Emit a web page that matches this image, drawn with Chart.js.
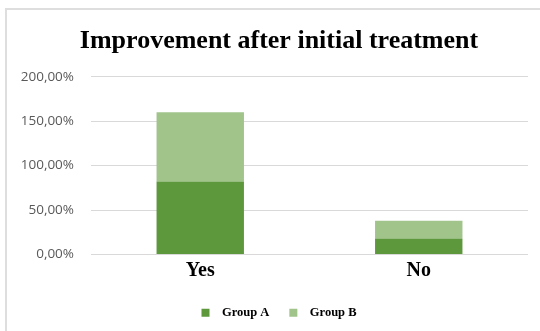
<!DOCTYPE html>
<html>
<head>
<meta charset="utf-8">
<script src="https://cdn.jsdelivr.net/npm/chart.js"></script>
<style>
  html, body { margin: 0; padding: 0; background: #fff; }
  #wrap { position: relative; width: 540px; height: 331px; overflow: hidden; }
  #frame {
    position: absolute; left: 5px; top: 8px; width: 600px; height: 400px;
    border-left: 2px solid #dedede; border-top: 2px solid #dedede;
  }
  canvas { position: absolute; left: 0; top: 0; }
</style>
</head>
<body>
<div id="wrap">
  <div id="frame"></div>
  <canvas id="chart" width="540" height="331"></canvas>
</div>
<script>
// 数据
const categories = ['Yes', 'No'];
const groupA = [82, 18];
const groupB = [78, 20];
const yTicks = [0, 50, 100, 150, 200];

const serif = '"Liberation Serif", "Times New Roman", serif';

let ctx = document.getElementById('chart').getContext('2d');

new Chart(ctx, {
  type: 'bar',
  data: {
    labels: categories,
    datasets: [{
      label: 'Group A',
      data: groupA,
      backgroundColor: '#5e983c'
    }, {
      label: 'Group B',
      data: groupB,
      backgroundColor: '#a0c48a'
    }]
  },
  options: {
    responsive: false,
    animation: false,
    layout: { padding: { top: 0, right: 0, bottom: 2, left: 18 } },
    datasets: {
      bar: { categoryPercentage: 1, barPercentage: 0.4 }
    },
    scales: {
      x: {
        stacked: true,
        grid: { display: false, drawTicks: false },
        border: { display: false },
        ticks: {
          color: '#000',
          padding: 4,
          font: { family: serif, size: 20, weight: 'bold' }
        }
      },
      y: {
        stacked: true,
        min: yTicks[0],
        max: yTicks[yTicks.length - 1],
        afterFit: function(axis) { axis.width = 73; },
        afterBuildTicks: function(axis) {
          axis.ticks = yTicks.map(v => ({ value: v }));
        },
        grid: { color: '#d9d9d9', lineWidth: 1, drawTicks: false },
        border: { display: false },
        ticks: {
          color: '#595959',
          padding: 17,
          font: { family: '"Open Sans", sans-serif', size: 13.5 },
          callback: v => v.toFixed(2).replace('.', ',') + '%'
        }
      },
      // 右侧留白
      yRight: {
        position: 'right',
        display: true,
        afterFit: function(axis) { axis.width = 12; },
        grid: { display: false },
        border: { display: false },
        ticks: { display: false }
      }
    },
    plugins: {
      title: {
        display: true,
        text: 'Improvement after initial treatment',
        color: '#000',
        padding: { top: 26, bottom: 19.5 },
        font: { family: serif, size: 26, weight: 'bold' }
      },
      legend: {
        position: 'bottom',
        padding: 8,
        labels: {
          color: '#000',
          boxWidth: 8,
          boxHeight: 8,
          padding: 20,
          font: { family: serif, size: 12.5, weight: 'bold' },
          generateLabels: function(chart) {
            let items = Chart.defaults.plugins.legend.labels.generateLabels(chart);
            // 方块和文字之间多留一点空隙
            items.forEach(item => { item.text = '  ' + item.text; item.lineWidth = 0; });
            return items;
          }
        }
      },
      tooltip: { enabled: false }
    }
  }
});
</script>
</body>
</html>
